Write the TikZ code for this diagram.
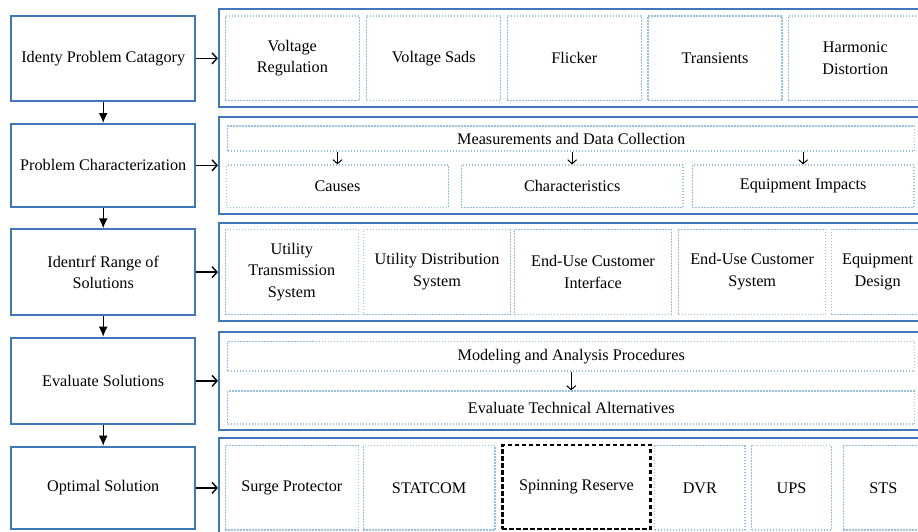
\documentclass[tikz,border=0pt]{standalone}
\usepackage{fontspec}
\setmainfont{Liberation Serif}
\newfontfamily\diagfont{Liberation Serif}
\usetikzlibrary{arrows.meta}

\definecolor{boxblue}{RGB}{66,118,186}
\definecolor{dotblue}{RGB}{150,190,228}

\tikzset{
  txt/.style={align=center,inner sep=0pt,font=\diagfont\fontsize{16.2}{21.5}\selectfont},
  stepbox/.style={txt,draw=boxblue,line width=2pt},
  groupbox/.style={draw=boxblue,line width=2pt,inner sep=0pt},
  itembox/.style={txt,draw=dotblue,line width=1.3pt,dash pattern=on 1.5pt off 1.5pt},
  pickbox/.style={txt,draw=black,line width=2.8pt,dash pattern=on 4.5pt off 2.5pt},
  downarrow/.style={-{Latex[length=10pt,width=9pt]},line width=1.4pt},
  rightarrow/.style={-{Straight Barb[length=5pt,width=11pt]},line width=1.4pt},
  subarrow/.style={-{Straight Barb[length=4pt,width=9pt]},line width=1pt}
}

\begin{document}
\begin{tikzpicture}[x=1pt,y=-1pt]

\clip (0,0) rectangle (918,531);

% groups on the right
\node[groupbox,minimum width=711pt,minimum height=98pt] (g1) at (574.5,58.3) {};
\node[groupbox,minimum width=711pt,minimum height=97.6pt] (g2) at (574.5,165.5) {};
\node[groupbox,minimum width=711pt,minimum height=98.3pt] (g3) at (574.5,271.85) {};
\node[groupbox,minimum width=711pt,minimum height=98.3pt] (g4) at (574.5,380.85) {};
\node[groupbox,minimum width=711pt,minimum height=101.7pt] (g5) at (574.5,489.15) {};

% problem categories
\node[itembox,minimum width=134pt,minimum height=84.7pt] (reg) at (292.3,58.35) {Voltage\\Regulation};
\node[itembox,minimum width=134pt,minimum height=84.7pt] (sag) at (433.7,58.35) {Voltage Sads};
\node[itembox,minimum width=134pt,minimum height=84.7pt] (fli) at (574.3,58.35) {Flicker};
\node[itembox,minimum width=134pt,minimum height=84.7pt] (tra) at (715,58.35) {Transients};
\node[itembox,minimum width=134pt,minimum height=84.7pt] (har) at (855.3,58.35) {Harmonic\\Distortion};

% characterization
\node[itembox,minimum width=687pt,minimum height=25pt] (meas) at (571.2,138.5) {Measurements and Data Collection};
\node[itembox,minimum width=221.6pt,minimum height=42.3pt] (cau) at (337.5,186.15) {Causes};
\node[itembox,minimum width=221.7pt,minimum height=42.3pt] (cha) at (572.15,186.15) {Characteristics};
\node[itembox,minimum width=221.7pt,minimum height=42.3pt] (imp) at (803.15,186.15) {Equipment Impacts};
\draw[subarrow] (meas.south -| cau.north) -- (cau.north);
\draw[subarrow] (meas.south -| cha.north) -- (cha.north);
\draw[subarrow] (meas.south -| imp.north) -- (imp.north);

% range of solutions
\node[itembox,minimum width=133pt,minimum height=85pt] (uts) at (291.8,271.8) {Utility\\Transmission\\System};
\node[itembox,minimum width=147.4pt,minimum height=85pt] (uds) at (437,271.8) {Utility Distribution\\System};
\node[itembox,minimum width=156.6pt,minimum height=85pt] (eci) at (593,271.8) {End-Use Customer\\Interface};
\node[itembox,minimum width=147pt,minimum height=85pt] (ecs) at (752.2,271.8) {End-Use Customer\\System};
\node[itembox,minimum width=92.7pt,minimum height=85pt] (eqd) at (877.65,271.8) {Equipment\\Design};

% evaluation
\node[itembox,minimum width=687pt,minimum height=29.3pt] (mod) at (571.2,356.35) {Modeling and Analysis Procedures};
\node[itembox,minimum width=687pt,minimum height=33pt] (alt) at (571.2,407.5) {Evaluate Technical Alternatives};
\draw[subarrow] (mod.south) -- (alt.north);

% solutions
\node[itembox,minimum width=133pt,minimum height=84.3pt] (sur) at (291.8,487.85) {Surge Protector};
\node[itembox,minimum width=131.7pt,minimum height=84.3pt] (sta) at (429.15,487.85) {STATCOM};
\node[pickbox,minimum width=148.4pt,minimum height=84pt] (spr) at (576.5,487) {Spinning Reserve};
\node[itembox,minimum width=90.3pt,minimum height=84.3pt] (dvr) at (699.85,487.85) {DVR};
\node[itembox,minimum width=79.6pt,minimum height=84.3pt] (ups) at (791.5,487.85) {UPS};
\node[itembox,minimum width=80pt,minimum height=84.3pt] (sts) at (883.3,487.85) {STS};

% steps on the left
\node[stepbox,minimum width=183.7pt,minimum height=84.7pt] (s1) at (103.2,58.35) {Identy Problem Catagory};
\node[stepbox,minimum width=183.7pt,minimum height=82.7pt] (s2) at (103.2,165.35) {Problem Characterization};
\node[stepbox,minimum width=183.7pt,minimum height=85.7pt] (s3) at (103.2,272.15) {Identırf Range of\\Solutions};
\node[stepbox,minimum width=183.7pt,minimum height=86.3pt] (s4) at (103.2,380.85) {Evaluate Solutions};
\node[stepbox,minimum width=183.7pt,minimum height=82.3pt] (s5) at (103.2,487.85) {Optimal Solution};

\draw[downarrow] (s1) -- (s2);
\draw[downarrow] (s2) -- (s3);
\draw[downarrow] (s3) -- (s4);
\draw[downarrow] (s4) -- (s5);

\draw[rightarrow] (s1.east) -- (s1.east -| g1.west);
\draw[rightarrow] (s2.east) -- (s2.east -| g2.west);
\draw[rightarrow] (s3.east) -- (s3.east -| g3.west);
\draw[rightarrow] (s4.east) -- (s4.east -| g4.west);
\draw[rightarrow] (s5.east) -- (s5.east -| g5.west);

\end{tikzpicture}
\end{document}
